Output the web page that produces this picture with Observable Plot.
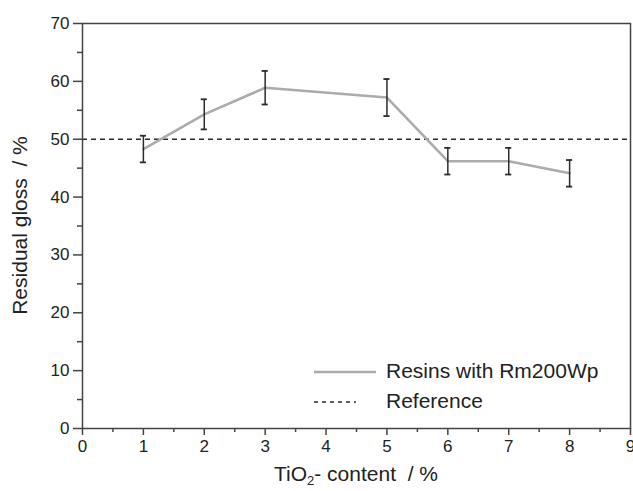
<!DOCTYPE html>
<html><head><meta charset="utf-8">
<script src="https://cdn.jsdelivr.net/npm/d3@7"></script>
<script src="https://cdn.jsdelivr.net/npm/@observablehq/plot@0.6"></script>
<style>
body{margin:0;background:#fff}
svg{font-family:"Liberation Sans",Arial,sans-serif}
</style>
</head><body><div id="chart"></div>
<script>
const tio2 = [1, 2, 3, 5, 6, 7, 8];
const gloss = [48.3, 54.3, 58.9, 57.2, 46.2, 46.2, 44.1];
const errors = [2.3, 2.6, 2.9, 3.2, 2.3, 2.3, 2.3];
const referenceValue = 50;
const xTicks = [0, 1, 2, 3, 4, 5, 6, 7, 8, 9];
const xMinorTicks = [0.5, 1.5, 2.5, 3.5, 4.5, 5.5, 6.5, 7.5, 8.5];
const yTicks = [0, 10, 20, 30, 40, 50, 60, 70];
const yMinorTicks = [5, 15, 25, 35, 45, 55, 65];
const seriesLabel = "Resins with Rm200Wp";
const referenceLabel = "Reference";
const yLabel = "Residual gloss\u00a0 / %";

const data = tio2.map((x, i) => ({x, y: gloss[i], lo: gloss[i] - errors[i], hi: gloss[i] + errors[i]}));
const cap = 0.05;
const ink = "#2a2a2a";
const axisInk = "#444";

const plot = Plot.plot({
  width: 633, height: 491,
  marginLeft: 82, marginRight: 3, marginTop: 23, marginBottom: 63,
  x: {domain: [0, 9]},
  y: {domain: [0, 70]},
  style: {fontSize: "17px", fontFamily: "'Liberation Sans', Arial, sans-serif", color: "#222", background: "#fff"},
  marks: [
    Plot.ruleY([referenceValue], {stroke: ink, strokeWidth: 1.5, strokeDasharray: "5,4"}),
    Plot.line(data, {x: "x", y: "y", stroke: "#ababab", strokeWidth: 2.6}),
    Plot.ruleX(data, {x: "x", y1: "lo", y2: "hi", stroke: ink, strokeWidth: 1.5}),
    Plot.ruleY(data, {y: "lo", x1: d => d.x - cap, x2: d => d.x + cap, stroke: ink, strokeWidth: 1.8}),
    Plot.ruleY(data, {y: "hi", x1: d => d.x - cap, x2: d => d.x + cap, stroke: ink, strokeWidth: 1.8}),
    Plot.axisX(xTicks, {tickSize: 7, tickPadding: 4, label: null, stroke: axisInk, strokeWidth: 1.5, fill: "#222"}),
    Plot.axisX(xMinorTicks, {tickSize: 4, label: null, stroke: axisInk, strokeWidth: 1.5, fill: "none"}),
    Plot.axisY(yTicks, {tickSize: 9, tickPadding: 4, label: null, stroke: axisInk, strokeWidth: 1.5, fill: "#222"}),
    Plot.axisY(yMinorTicks, {tickSize: 5, label: null, stroke: axisInk, strokeWidth: 1.5, fill: "none"}),
    Plot.frame({stroke: axisInk, strokeWidth: 1.5})
  ]
});

const svg = d3.select(plot);
svg.append("text")
  .attr("transform", "translate(21,225.5) rotate(-90)")
  .attr("text-anchor", "middle").attr("dominant-baseline", "middle")
  .attr("font-size", 21).attr("fill", "#222")
  .text(yLabel);

const xl = svg.append("text")
  .attr("x", 356).attr("y", 481)
  .attr("text-anchor", "middle")
  .attr("font-size", 21).attr("fill", "#222");
xl.append("tspan").text("TiO");
xl.append("tspan").attr("dy", 4).attr("font-size", 13).text("2");
xl.append("tspan").attr("dy", -4).text("- content\u00a0 / %");

const lg = svg.append("g").attr("font-size", 21).attr("fill", "#222").attr("text-anchor", "start");
lg.append("line").attr("x1", 314).attr("x2", 376).attr("y1", 372).attr("y2", 372)
  .attr("stroke", "#ababab").attr("stroke-width", 2.6);
lg.append("text").attr("x", 386).attr("y", 372).attr("dominant-baseline", "middle").text(seriesLabel);
lg.append("line").attr("x1", 314).attr("x2", 356).attr("y1", 402).attr("y2", 402)
  .attr("stroke", ink).attr("stroke-width", 1.3).attr("stroke-dasharray", "4,4");
lg.append("text").attr("x", 386).attr("y", 402).attr("dominant-baseline", "middle").text(referenceLabel);

document.getElementById("chart").appendChild(plot);
</script>
</body></html>
